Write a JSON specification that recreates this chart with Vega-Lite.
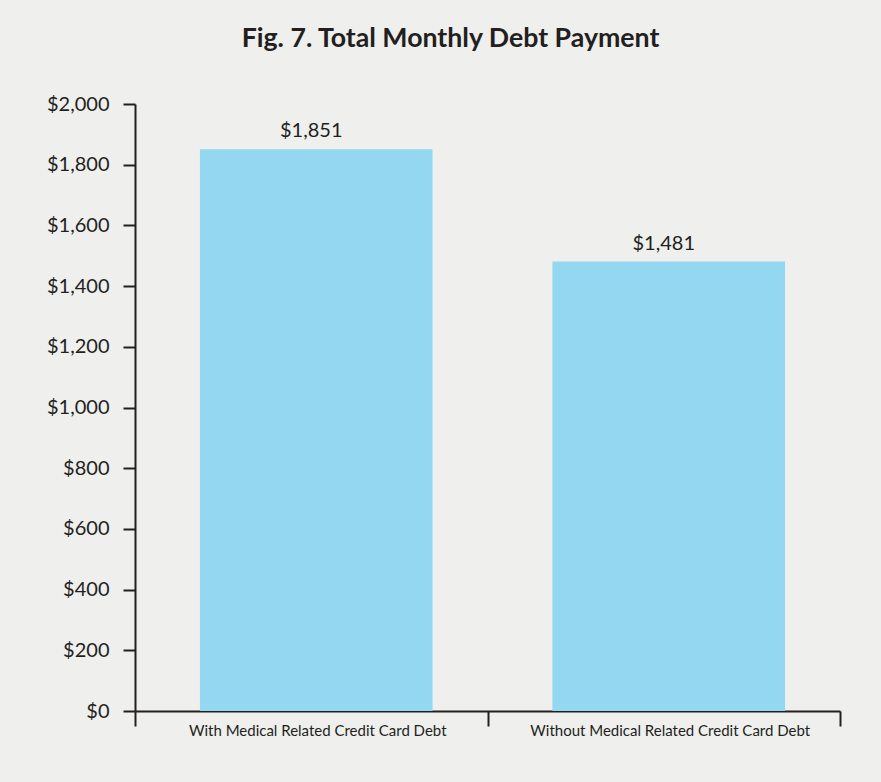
{
  "$schema": "https://vega.github.io/schema/vega-lite/v6.json",
  "width": 705,
  "height": 607,
  "autosize": {"type": "none"},
  "padding": {"left": 135, "top": 104, "right": 41, "bottom": 71},
  "background": "#efefee",
  "title": {
    "text": "Fig. 7. Total Monthly Debt Payment",
    "font": "Lato",
    "fontSize": 26.7,
    "fontWeight": "bold",
    "color": "#231f20",
    "anchor": "middle",
    "frame": "group",
    "dx": -37,
    "offset": 41
  },
  "config": {"view": {"stroke": null}, "font": "Lato"},
  "data": {
    "values": [
      {"category": "With Medical Related Credit Card Debt", "payment": 1851},
      {"category": "Without Medical Related Credit Card Debt", "payment": 1481}
    ]
  },
  "encoding": {
    "x": {
      "field": "category",
      "type": "nominal",
      "sort": null,
      "scale": {"paddingInner": 0, "paddingOuter": 0},
      "axis": {
        "title": null,
        "labelAngle": 0,
        "tickBand": "extent",
        "tickSize": 15,
        "tickWidth": 2,
        "tickColor": "#231f20",
        "domainColor": "#231f20",
        "domainWidth": 2,
        "labelFontSize": 15,
        "labelColor": "#231f20",
        "labelPadding": -3,
        "labelOffset": 6,
        "labelLimit": 0
      }
    },
    "y": {
      "field": "payment",
      "type": "quantitative",
      "scale": {"domain": [0, 2000]},
      "axis": {
        "title": null,
        "values": [0, 200, 400, 600, 800, 1000, 1200, 1400, 1600, 1800, 2000],
        "format": "$,.0f",
        "grid": false,
        "tickSize": 12,
        "tickWidth": 2,
        "tickColor": "#231f20",
        "domainColor": "#231f20",
        "domainWidth": 2,
        "labelFontSize": 20,
        "labelColor": "#231f20",
        "labelPadding": 14
      }
    }
  },
  "layer": [
    {
      "mark": {"type": "bar", "color": "#93d7f1", "width": {"band": 0.66}, "xOffset": 5}
    },
    {
      "mark": {"type": "text", "fontSize": 20, "color": "#231f20", "dy": -12, "baseline": "alphabetic"},
      "encoding": {"text": {"field": "payment", "type": "quantitative", "format": "$,.0f"}}
    }
  ]
}
